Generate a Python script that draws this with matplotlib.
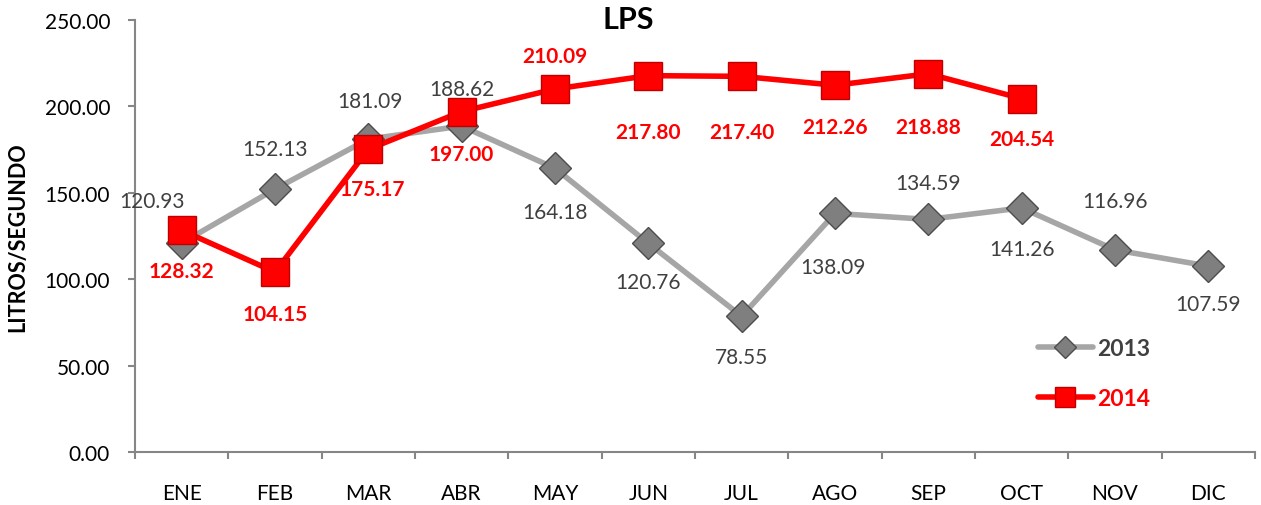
import matplotlib
matplotlib.use("Agg")
import matplotlib.pyplot as plt
from matplotlib.lines import Line2D

plt.rcParams['font.family'] = ['Lato', 'DejaVu Sans']

months = ["ENE", "FEB", "MAR", "ABR", "MAY", "JUN", "JUL", "AGO", "SEP", "OCT", "NOV", "DIC"]
vals_2013 = [120.93, 152.13, 181.09, 188.62, 164.18, 120.76, 78.55, 138.09, 134.59, 141.26, 116.96, 107.59]
vals_2014 = [128.32, 104.15, 175.17, 197.00, 210.09, 217.80, 217.40, 212.26, 218.88, 204.54]
yticks = [0, 50, 100, 150, 200, 250]

# label offsets in pixels (layout only)
off_2013 = [(-30, 42), (0, 40), (2, 38), (0, 37), (0, -44), (0, -39), (0, -41), (-2, -54),
            (0, 36), (0, -41), (0, 49), (0, -38)]
off_2014 = [(0, -41), (0, -42), (4, -40), (0, -42), (0, 33), (0, -56), (0, -56), (0, -42),
            (0, -53), (0, -40)]

W, H = 1261, 506
fig = plt.figure(figsize=(W / 100, H / 100), dpi=100)
ax = fig.add_axes([135 / W, 53 / H, (1255 - 135) / W, 432 / H])

x13 = list(range(len(vals_2013)))
x14 = list(range(len(vals_2014)))

gray_line = "#A6A6A6"
gray_mk = "#7F7F7F"
gray_edge = "#4D4D4D"
red = "#FF0000"
red_edge = "#C00000"
txt_gray = "#404040"

ax.plot(x13, vals_2013, color=gray_line, lw=4.0, marker="D", ms=16,
        markerfacecolor=gray_mk, markeredgecolor=gray_edge, markeredgewidth=1.0,
        solid_capstyle="round", zorder=3)
ax.plot(x14, vals_2014, color=red, lw=4.0, marker="s", ms=20,
        markerfacecolor=red, markeredgecolor=red_edge, markeredgewidth=1.0,
        solid_capstyle="round", zorder=4)

for xi, v, (dx, dy) in zip(x13, vals_2013, off_2013):
    ax.annotate(f"{v:.2f}", (xi, v), xytext=(dx, dy), textcoords="offset pixels",
                ha="center", va="center", fontsize=15, color=txt_gray, zorder=5)
for xi, v, (dx, dy) in zip(x14, vals_2014, off_2014):
    ax.annotate(f"{v:.2f}", (xi, v), xytext=(dx, dy), textcoords="offset pixels",
                ha="center", va="center", fontsize=15, color=red, fontweight="bold", zorder=5)

ax.set_xlim(-0.5, len(months) - 0.5)
ax.set_ylim(0, 250)
ax.set_yticks(yticks)
ax.set_yticklabels([f"{t:.2f}" for t in yticks], fontsize=15, color="#000000")
ax.set_xticks([i - 0.5 for i in range(len(months) + 1)])
ax.set_xticklabels([])
ax.set_xticks(list(range(len(months))), minor=True)
ax.set_xticklabels(months, minor=True, fontsize=15)
ax.tick_params(axis="x", which="major", length=5, width=1.5, color="#868686", direction="out")
ax.tick_params(axis="x", which="minor", length=0, pad=22)
ax.tick_params(axis="y", length=5, width=1.5, color="#868686", direction="out", pad=13)

for s in ["top", "right"]:
    ax.spines[s].set_visible(False)
for s in ["left", "bottom"]:
    ax.spines[s].set_color("#868686")
    ax.spines[s].set_linewidth(1.5)

fig.text(18 / W, 1 - 237 / H, "LITROS/SEGUNDO", rotation=90, ha="center", va="center",
         fontsize=15.5, fontweight="bold")
fig.text(628 / W, 1 - 20 / H, "LPS", ha="center", va="center", fontsize=22, fontweight="bold")

handles = [
    Line2D([], [], color=gray_line, lw=4, marker="D", ms=11, markerfacecolor=gray_mk,
           markeredgecolor=gray_edge, solid_capstyle="round"),
    Line2D([], [], color=red, lw=4, marker="s", ms=14, markerfacecolor=red,
           markeredgecolor=red_edge, solid_capstyle="round"),
]
leg = ax.legend(handles, ["2013", "2014"], loc="upper left",
                bbox_to_anchor=(1017 / W, 1 - 318 / H), bbox_transform=fig.transFigure,
                frameon=False, handlelength=2.4, handletextpad=0.2, labelspacing=1.3,
                prop={"size": 16.5, "weight": "bold"})
leg.get_texts()[0].set_color(txt_gray)
leg.get_texts()[1].set_color(red)

fig.savefig("out.png", dpi=100)
